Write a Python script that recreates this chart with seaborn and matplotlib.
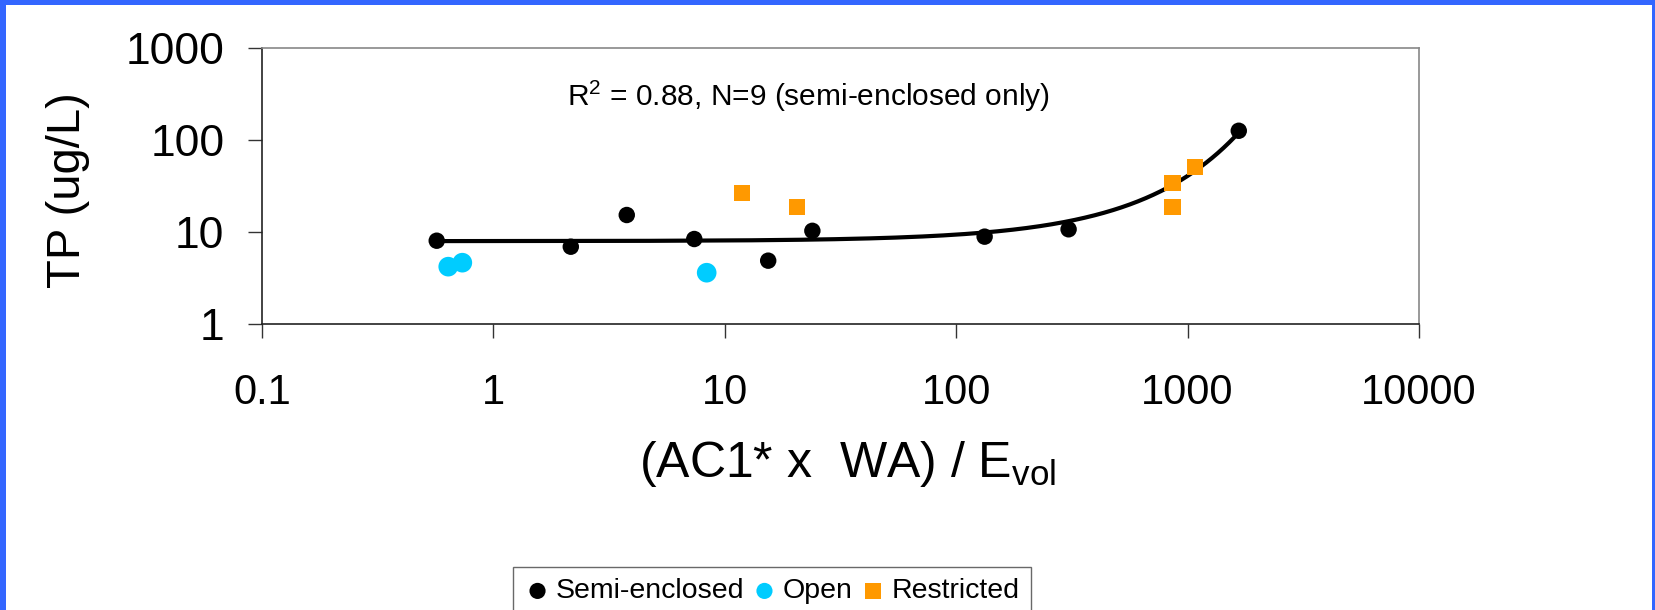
import numpy as np
import pandas as pd
import matplotlib
matplotlib.use("Agg")
import matplotlib.pyplot as plt
from matplotlib.patches import Rectangle
import seaborn as sns

# ---- data ----
semi_x = [0.569, 2.16, 3.77, 7.38, 15.4, 23.9, 132.7, 306, 1664]
semi_y = [8.04, 6.92, 15.3, 8.39, 4.88, 10.3, 8.9, 10.7, 126]
open_x = [0.638, 0.734, 8.35]
open_y = [4.2, 4.64, 3.61]
restr_x = [11.9, 20.5, 861, 861, 1074]
restr_y = [26.7, 18.8, 34.4, 18.8, 51.3]
categories = ["Semi-enclosed", "Open", "Restricted"]
colors = {"Semi-enclosed": "#000000", "Open": "#00CCFF", "Restricted": "#FF9900"}
markers = {"Semi-enclosed": "o", "Open": "o", "Restricted": "s"}
sizes = {"Semi-enclosed": 140, "Open": 200, "Restricted": 135}
x_ticks = [0.1, 1, 10, 100, 1000, 10000]
x_ticklabels = ["0.1", "1", "10", "100", "1000", "10000"]
y_ticks = [1, 10, 100, 1000]
y_ticklabels = ["1", "10", "100", "1000"]

df = pd.DataFrame({
    "x": semi_x + open_x + restr_x,
    "y": semi_y + open_y + restr_y,
    "type": ["Semi-enclosed"] * len(semi_x) + ["Open"] * len(open_x) + ["Restricted"] * len(restr_x),
})

# exponential trend (Excel-style) fitted to semi-enclosed only
b, ln_a = np.polyfit(np.array(semi_x), np.log(np.array(semi_y)), 1)
tx = np.linspace(min(semi_x), max(semi_x), 400)
trend = pd.DataFrame({"x": tx, "y": np.exp(ln_a) * np.exp(b * tx)})

sns.set_theme(style="white")
plt.rcParams["font.family"] = ["Liberation Sans", "DejaVu Sans"]
plt.rcParams["mathtext.fontset"] = "custom"
plt.rcParams["mathtext.rm"] = "Liberation Sans"
plt.rcParams["mathtext.it"] = "Liberation Sans"
plt.rcParams["text.color"] = "black"
plt.rcParams["axes.labelcolor"] = "black"
plt.rcParams["xtick.color"] = "black"
plt.rcParams["ytick.color"] = "black"

W, H = 1655, 610
fig = plt.figure(figsize=(W / 100, H / 100), dpi=100)
fig.patch.set_facecolor("#3366FF")
fig.add_artist(Rectangle((6 / W, 0), (1652 - 6) / W, 605 / H,
                         transform=fig.transFigure, facecolor="white",
                         edgecolor="none", zorder=-10))

ax = fig.add_axes([262 / W, 1 - 324 / H, (1419 - 262) / W, (324 - 48) / H])
ax.set_facecolor("white")

sns.lineplot(data=trend, x="x", y="y", color="black", linewidth=3.0, ax=ax,
             legend=False, zorder=2)
for cat in categories:
    sub = df[df["type"] == cat]
    sns.scatterplot(data=sub, x="x", y="y", color=colors[cat], marker=markers[cat],
                    s=sizes[cat], edgecolor="none", linewidth=0, ax=ax,
                    label=cat, zorder=3)

ax.set_xscale("log")
ax.set_yscale("log")
ax.set_xlim(0.1, 10000)
ax.set_ylim(1, 1000)
ax.set_xticks(x_ticks)
ax.set_xticklabels(x_ticklabels)
ax.set_yticks(y_ticks)
ax.set_yticklabels(y_ticklabels)
ax.minorticks_off()
ax.tick_params(axis="x", which="major", direction="out", length=10, width=1,
               color="#333333", labelcolor="black", labelsize=30, pad=25.5, bottom=True)
ax.tick_params(axis="y", which="major", direction="out", length=10, width=1,
               color="#333333", labelcolor="black", labelsize=32, pad=17, left=True)

for side in ["left", "bottom"]:
    ax.spines[side].set_color("#222222")
    ax.spines[side].set_linewidth(1.2)
for side in ["top", "right"]:
    ax.spines[side].set_color("#888888")
    ax.spines[side].set_linewidth(1.2)

ax.set_xlabel(r"(AC1* x  WA) / E$_{\mathrm{vol}}$", fontsize=36, color="black")
ax.xaxis.label.set_va("center")
ax.xaxis.set_label_coords((848 - 262) / 1157, (324 - 464) / 276)
ax.set_ylabel("TP (ug/L)", fontsize=34, color="black")
ax.yaxis.label.set_va("center")
ax.yaxis.set_label_coords((68 - 262) / 1157, (324 - 190) / 276)

ax.text((808 - 262) / 1157, (324 - 96) / 276,
        r"R$^{\mathrm{2}}$ = 0.88, N=9 (semi-enclosed only)",
        transform=ax.transAxes, ha="center", va="center", fontsize=21.5,
        color="black")

handles, labels = ax.get_legend_handles_labels()
if ax.get_legend() is not None:
    ax.get_legend().remove()
leg = fig.legend(handles, labels, loc="upper center",
                 bbox_to_anchor=(772 / W, 1 - 567 / H), ncol=3, fontsize=20.5,
                 frameon=True, fancybox=False, edgecolor="#444444",
                 handletextpad=0.2, columnspacing=0.25, handlelength=0.9,
                 borderpad=0.4, borderaxespad=0, markerscale=1.0)
leg.get_frame().set_linewidth(1.0)
for h in leg.legend_handles:
    try:
        h.set_sizes([135])
    except AttributeError:
        pass
for t in leg.get_texts():
    t.set_color("black")

fig.savefig("out.png", dpi=100, facecolor=fig.get_facecolor())
